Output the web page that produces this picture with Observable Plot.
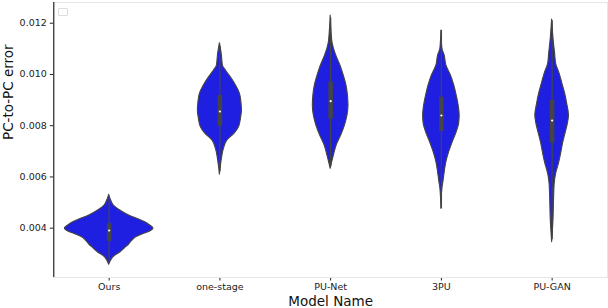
<!DOCTYPE html>
<html>
<head>
<meta charset="utf-8">
<script src="https://cdn.jsdelivr.net/npm/d3@7"></script>
<script src="https://cdn.jsdelivr.net/npm/@observablehq/plot@0.6"></script>
<style>
  html, body { margin: 0; padding: 0; background: #fff; }
  #wrap { position: relative; width: 608px; height: 308px; overflow: hidden; }
  #legend { position: absolute; left: 58px; top: 8px; width: 8px; height: 6px; border: 1px solid #dcdcdc; border-radius: 1px; background: #fff; }
</style>
</head>
<body>
<div id="wrap"><div id="legend"></div></div>
<script>
const models = ["Ours", "one-stage", "PU-Net", "3PU", "PU-GAN"];

// violin outlines: error value and half-width (category units)
const oursErr  = [0.005303,0.005081,0.004886,0.004691,0.004496,0.004340,0.004222,0.004105,0.003988,0.003871,0.003754,0.003637,0.003520,0.003364,0.003208,0.003052,0.002896,0.002740,0.002572];
const oursHalf = [0,0.018,0.042,0.10,0.18,0.27,0.33,0.37,0.40,0.37,0.30,0.24,0.21,0.18,0.14,0.10,0.045,0.018,0];

const oneErr  = [0.011219,0.010739,0.010349,0.010153,0.009830,0.009568,0.009244,0.008917,0.008593,0.008269,0.007941,0.007683,0.007422,0.007098,0.006708,0.006084];
const oneHalf = [0,0.018,0.027,0.054,0.108,0.145,0.181,0.194,0.199,0.190,0.172,0.131,0.068,0.036,0.018,0];

const punetErr  = [0.012300,0.011714,0.011207,0.010739,0.010349,0.009958,0.009568,0.009178,0.008788,0.008398,0.008007,0.007617,0.007227,0.006903,0.006575,0.006318];
const punetHalf = [0,0.007,0.018,0.050,0.088,0.118,0.143,0.156,0.161,0.152,0.129,0.095,0.054,0.033,0.014,0];

const tpuErr  = [0.011714,0.011012,0.010739,0.010349,0.009958,0.009568,0.009178,0.008788,0.008398,0.008074,0.007746,0.007356,0.006966,0.006575,0.006185,0.005795,0.005537,0.004757];
const tpuHalf = [0,0.009,0.030,0.045,0.086,0.116,0.138,0.156,0.165,0.160,0.138,0.102,0.070,0.045,0.030,0.018,0.009,0];

const puganErr  = [0.012143,0.011324,0.010805,0.010415,0.010025,0.009635,0.009244,0.008854,0.008398,0.008074,0.007683,0.007293,0.006903,0.006513,0.006123,0.005733,0.005210,0.004300,0.003454];
const puganHalf = [0,0.014,0.027,0.036,0.068,0.093,0.118,0.136,0.152,0.142,0.120,0.098,0.081,0.061,0.036,0.023,0.018,0.012,0];

// inner box statistics
const q1      = [0.003481, 0.007980, 0.008269, 0.007773, 0.007317];
const q3      = [0.004172, 0.009178, 0.009697, 0.009112, 0.008983];
const medians = [0.003910, 0.008554, 0.008956, 0.008398, 0.008202];
const whiskLo = [0.002662, 0.006200, 0.006400, 0.004757, 0.003550];
const whiskHi = [0.005159, 0.011100, 0.012200, 0.011714, 0.012100];

const yTicks = [0.004, 0.006, 0.008, 0.010, 0.012];

const profiles = [[oursErr, oursHalf], [oneErr, oneHalf], [punetErr, punetHalf], [tpuErr, tpuHalf], [puganErr, puganHalf]];
const rows = [];
profiles.forEach(([errs, halves], i) => {
  errs.forEach((v, k) => rows.push({model: models[i], idx: i, v, w: halves[k]}));
});
rows.sort((a, b) => a.idx - b.idx || a.v - b.v);

const stats = models.map((m, i) => ({idx: i, q1: q1[i], q3: q3[i], med: medians[i], lo: whiskLo[i], hi: whiskHi[i]}));

const chart = Plot.plot({
  width: 608,
  height: 308,
  marginLeft: 53.3,
  marginRight: 1,
  marginTop: 2,
  marginBottom: 31,
  style: {fontFamily: "DejaVu Sans, sans-serif", fontSize: "9.5px", color: "#222", background: "#fff"},
  x: {domain: [-0.5, 4.5], ticks: [0, 1, 2, 3, 4], tickFormat: i => models[i], tickSize: 3.5, tickPadding: 2, label: null},
  y: {domain: [0.002076, 0.012808], ticks: yTicks, tickFormat: d3.format(".3f"), tickSize: 3.5, tickPadding: 3.5, label: null},
  marks: [
    Plot.frame({stroke: "#e6e6e6", strokeWidth: 1}),
    Plot.ruleX([-0.5], {stroke: "#000", strokeWidth: 1}),
    Plot.areaX(rows, {
      y: "v", x1: d => d.idx - d.w, x2: d => d.idx + d.w, z: "model",
      fill: "#1f1fe2", stroke: "#444", strokeWidth: 1.1, curve: "monotone-y"
    }),
    Plot.ruleX(stats, {x: "idx", y1: "lo", y2: "hi", stroke: "#444", strokeWidth: 1.3}),
    Plot.ruleX(stats, {x: "idx", y1: "q1", y2: "q3", stroke: "#444", strokeWidth: 4.5}),
    Plot.dot(stats, {x: "idx", y: "med", r: 1.1, fill: "#fff", stroke: null}),
    Plot.text(["PC-to-PC error"], {frameAnchor: "left", dx: -45, rotate: -90, text: d => d, fontSize: 13.5, fill: "#111"}),
    Plot.text(["Model Name"], {frameAnchor: "bottom", dy: 28.5, text: d => d, fontSize: 13.5, fill: "#111"})
  ]
});
document.getElementById("wrap").prepend(chart);
</script>
</body>
</html>
